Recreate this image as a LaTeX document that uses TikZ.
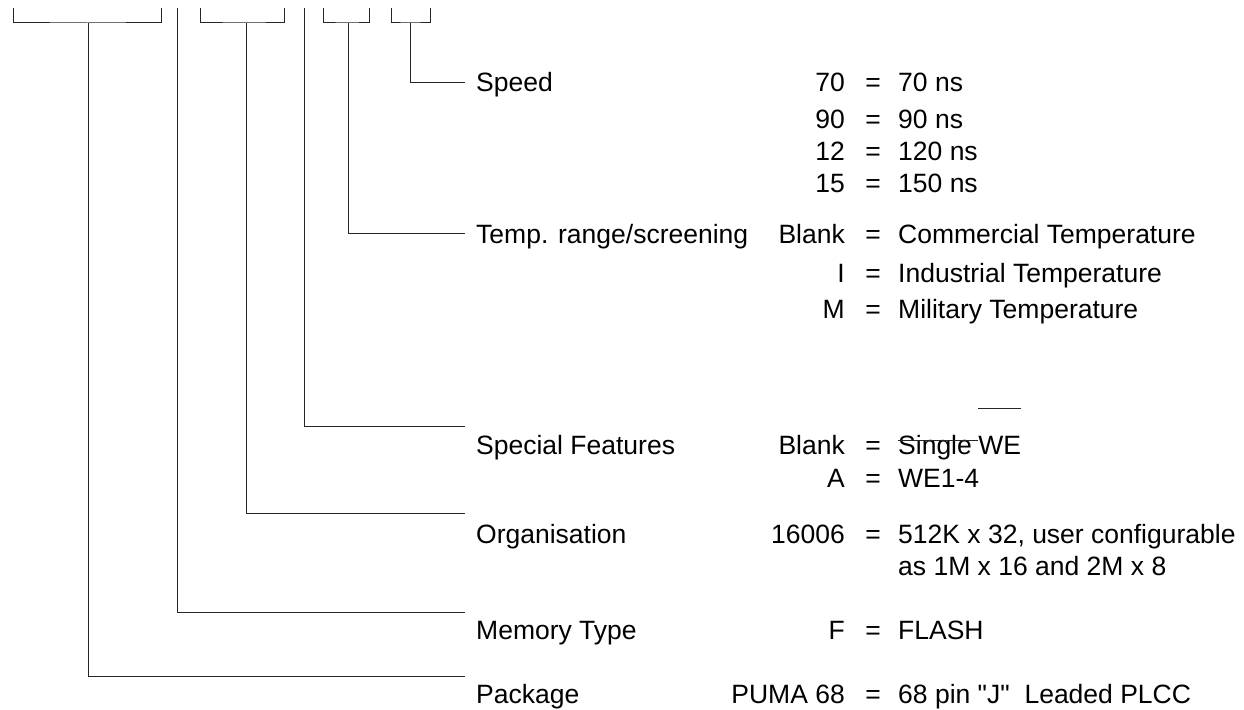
\documentclass[tikz,border=0pt]{standalone}
\usepackage{fontspec}
\setmainfont{Liberation Sans}[Ligatures=TeXOff]
\begin{document}
\begin{tikzpicture}[x=1pt,y=-1pt,
  ln/.style={line width=1pt, draw=black!85},
  txt/.style={inner sep=0pt, font=\fontsize{26.5}{32}\selectfont},
  lbl/.style={txt, anchor=base west},
  code/.style={txt, anchor=base east},
  eq/.style={txt, anchor=base},
  val/.style={txt, anchor=base west}]
\useasboundingbox[fill=white] (0,0) rectangle (1244,709);

% top brackets
\coordinate (pkgL) at (13,8);  \coordinate (pkgR) at (161,8);  \coordinate (pkgM) at (88,23);
\coordinate (memT) at (177,8);
\coordinate (orgL) at (200,8); \coordinate (orgR) at (284,8); \coordinate (orgM) at (246,23);
\coordinate (spfT) at (304,8);
\coordinate (tmpL) at (323,8); \coordinate (tmpR) at (369,8); \coordinate (tmpM) at (348,23);
\coordinate (spdL) at (391,8); \coordinate (spdR) at (430,8); \coordinate (spdM) at (410,23);

% line ends
\coordinate (spdE) at (465,82);
\coordinate (tmpE) at (465,233);
\coordinate (spfE) at (465,426);
\coordinate (orgE) at (465,513);
\coordinate (memE) at (465,612);
\coordinate (pkgE) at (465,676);

\draw[ln] (pkgL) |- (pkgM) -| (pkgR);
\draw[ln] (orgL) |- (orgM) -| (orgR);
\draw[ln] (tmpL) |- (tmpM) -| (tmpR);
\draw[ln] (spdL) |- (spdM) -| (spdR);

\draw[ln] (spdM) |- (spdE);
\draw[ln] (tmpM) |- (tmpE);
\draw[ln] (spfT) |- (spfE);
\draw[ln] (orgM) |- (orgE);
\draw[ln] (memT) |- (memE);
\draw[ln] (pkgM) |- (pkgE);

% labels
\node[lbl] (lspd) at (476,92)  {Speed};
\node[lbl] (ltmp) at (476,243) {Temp. range/screening};
\node[lbl] (lspf) at (476,454) {Special Features};
\node[lbl] (lorg) at (476,543) {Organisation};
\node[lbl] (lmem) at (476,639) {Memory Type};
\node[lbl] (lpkg) at (476,703) {Package};

% speed
\node[code] (c70) at (845,92)  {70};   \node[eq] (e70) at (873,92)  {=}; \node[val] (v70) at (898,92)  {70 ns};
\node[code] (c90) at (845,128) {90};   \node[eq] (e90) at (873,128) {=}; \node[val] (v90) at (898,128) {90 ns};
\node[code] (c12) at (845,160) {12};   \node[eq] (e12) at (873,160) {=}; \node[val] (v12) at (898,160) {120 ns};
\node[code] (c15) at (845,192) {15};   \node[eq] (e15) at (873,192) {=}; \node[val] (v15) at (898,192) {150 ns};

% temperature
\node[code] (cB) at (845,243) {Blank}; \node[eq] (eB) at (873,243) {=}; \node[val] (vB) at (898,243) {Commercial Temperature};
\node[code] (cI) at (845,282) {I};     \node[eq] (eI) at (873,282) {=}; \node[val] (vI) at (898,282) {Industrial Temperature};
\node[code] (cM) at (845,318) {M};     \node[eq] (eM) at (873,318) {=}; \node[val] (vM) at (898,318) {Military Temperature};

% special features
\node[code] (cSB) at (845,454) {Blank}; \node[eq] (eSB) at (873,454) {=};
\node[val] (vSingle) at (898,454) {Single};
\node[val] (vWE) at ([xshift=6pt]vSingle.base east) {WE};
\draw[ln] (vSingle.west |- 0,440) coordinate (stA) -- (vWE.west |- 0,440) coordinate (stB);
\draw[ln] (vWE.west |- 0,408) coordinate (obA) -- (vWE.east |- 0,408) coordinate (obB);
\node[code] (cA) at (845,487) {A};     \node[eq] (eA) at (873,487) {=}; \node[val] (vA) at (898,487) {WE1-4};

% organisation
\node[code] (cO) at (845,543) {16006}; \node[eq] (eO) at (873,543) {=}; \node[val] (vO) at (898,543) {512K x 32, user configurable};
\node[val] (vO2) at (898,575) {as 1M x 16 and 2M x 8};

% memory
\node[code] (cF) at (845,639) {F};     \node[eq] (eF) at (873,639) {=}; \node[val] (vF) at (898,639) {FLASH};

% package
\node[code] (cP) at (845,703) {PUMA 68}; \node[eq] (eP) at (873,703) {=}; \node[val] (vP) at (898,703) {68 pin "J"\ \ Leaded PLCC};
\end{tikzpicture}
\end{document}
